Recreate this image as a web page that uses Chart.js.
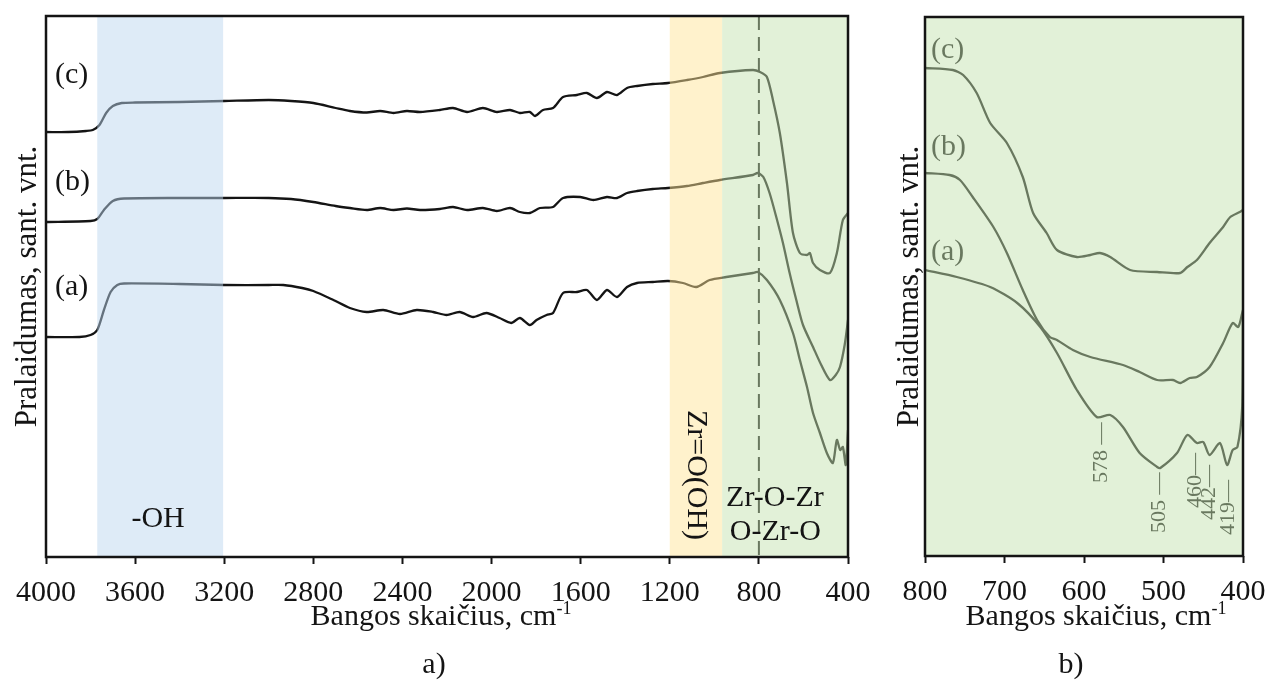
<!DOCTYPE html>
<html><head><meta charset="utf-8">
<script src="https://cdn.jsdelivr.net/npm/chart.js@4.4.1/dist/chart.umd.min.js"></script>
<style>
html,body{margin:0;padding:0;background:#fff;width:1269px;height:681px;overflow:hidden}
#wrapA{position:absolute;left:0;top:0;width:880px;height:681px}
#wrapB{position:absolute;left:880px;top:0;width:389px;height:681px}
canvas{display:block}
</style></head><body>
<div id="wrapA"><canvas id="cA" width="880" height="681"></canvas></div>
<div id="wrapB"><canvas id="cB" width="389" height="681"></canvas></div>
<script>
// ---------- DATA ----------
const leftTicks = [4000, 3600, 3200, 2800, 2400, 2000, 1600, 1200, 800, 400];
const rightTicks = [800, 700, 600, 500, 400];
const seriesNames = ['(a)', '(b)', '(c)'];
const yTitle = 'Pralaidumas, sant. vnt.';
const xTitleMain = 'Bangos skaičius, cm';
const xTitleSup = '-1';
const panelCaptions = ['a)', 'b)'];

const bandStart = [3770, 1200, 965];
const bandEnd = [3205, 965, 400];
const bandTexts = ['-OH', 'Zr=O(OH)', 'Zr-O-Zr', 'O-Zr-O'];
const dashedLineAt = 800;

const peakWavenumbers = [578, 505, 460, 442, 419];
const peakTexts = ['578 \u2014', '505 \u2014', '460\u2014', '442\u2014', '419\u2014'];

// left panel, full range 4000-400 cm-1 (arbitrary transmittance units)
const leftA_x = [4000,3850,3800,3770,3740,3710,3680,3650,3400,3200,3000,2935,2850,2800,2710,2636,2561,2486,2411,2336,2262,2202,2143,2083,2023,1964,1912,1873,1828,1798,1753,1724,1679,1617,1572,1527,1482,1437,1392,1347,1276,1208,1141,1081,1021,946,827,805,764,706,647,616,584,557,526,495,468,450,435,423,410,400];
const leftA_y = [220,220,222,227,247,265,272,273.5,273,272,272,272,269,266,257,249,245,247,243,247,245,242,245,240,244,239,234,239,232,237,242,244,264,265,267,257,267,260,270,274,275,276,274,270,277,280,284,285,277,257,224,197,170,144,124,104,94,117,107,110,92,127];

const leftB_x = [4000,3800,3770,3740,3700,3650,3400,3200,3000,2900,2800,2700,2636,2560,2500,2440,2380,2321,2232,2173,2110,2039,1976,1917,1873,1828,1783,1724,1679,1602,1543,1482,1437,1392,1347,1276,1208,1123,1051,975,827,805,780,752,722,692,662,632,602,557,520,481,455,436,415,400];
const leftB_y = [335,336,338,347,356,358.5,359,359,359,358,355,351,349,347,349,347,348.5,347,348,350,347,349,346,349,345,344,349,350,359,360,357,360,359,364,366,368,369,371,374,377,382,384,380,364,340,314,284,257,232,210,192,177,182,190,212,237];

const leftC_x = [4000,3900,3820,3790,3760,3730,3700,3660,3600,3400,3200,3000,2900,2800,2700,2636,2560,2500,2440,2380,2321,2232,2173,2110,2039,1976,1917,1873,1828,1805,1769,1724,1679,1617,1572,1527,1482,1437,1392,1347,1276,1208,1123,1051,975,827,795,764,737,706,674,647,616,584,571,557,526,481,450,423,400];
const leftC_y = [425,425,426,427,432,444,451,454,454.5,455,456,457,456,454,449,446,444.5,446,444,446,445,447,449,445,449,445,447,444,445,441,447,449,460,462,464,459,465,462,469,471,473,474,477,480,484,487,485,480,457,424,374,324,304,302,304,294,287,284,304,337,344];

// right panel, 800-400 cm-1
const rightA_x = [800,760,718,684,655,634,609,584,567,551,530,508,504,483,470,458,450,442,429,420,413,407,401,400];
const rightA_y = [286,279,269,253,229,203,166,139,141,129,103,89,88,103,121,113,114,101,113,91,106,109,149,239];

const rightB_x = [800,769,756,740,714,697,677,659,643,634,614,592,551,530,508,488,479,467,458,442,425,413,406,401,400];
const rightB_y = [383,381,376,359,329,303,266,236,219,216,206,199,191,184,176,176,173,178,179,189,213,233,229,243,246];

const rightC_x = [800,765,752,735,718,697,677,664,647,634,609,592,580,567,542,508,479,470,458,442,425,416,404,400];
const rightC_y = [488,486,481,463,433,413,379,343,323,306,299,301,303,299,286,284,283,289,296,313,329,339,344,346];

// ---------- STYLE / LAYOUT ----------
const FONT = "'Liberation Serif', 'Times New Roman', Times, serif";
const INK = '#141414';
const bandOverlay = ['rgba(187,214,239,0.486)', 'rgba(255,228,150,0.486)', 'rgba(195,226,175,0.486)'];
const greenOverlay = 'rgba(195,226,175,0.486)';

Chart.defaults.font.family = FONT;
Chart.defaults.color = INK;

function pts(xs, ys) { return xs.map((x, i) => ({ x: x, y: ys[i] })); }

function xScale(ticksArr, min, max, h) {
  return {
    type: 'linear', reverse: true, min: min, max: max,
    afterBuildTicks: s => { s.ticks = ticksArr.map(v => ({ value: v })); },
    afterFit: s => { s.height = h; s.paddingLeft = 0; s.paddingRight = 0; },
    ticks: { font: { size: 30 }, color: INK, padding: 11, maxRotation: 0, autoSkip: false, callback: v => String(v) },
    grid: { display: true, drawOnChartArea: false, drawTicks: true, tickLength: 7, tickColor: INK, tickWidth: 2 },
    border: { display: false }
  };
}
function yScale(max, w, pad) {
  return {
    type: 'linear', min: 0, max: max,
    afterFit: s => { s.width = w; s.paddingTop = 0; s.paddingBottom = 0; },
    ticks: { display: false }, grid: { display: false }, border: { display: false },
    title: { display: true, text: yTitle, font: { size: 31 }, color: INK, padding: { top: pad, bottom: 0 } }
  };
}
function ds(label, xs, ys) {
  return { label: label, data: pts(xs, ys), borderColor: INK, borderWidth: 2.3, pointRadius: 0, tension: 0.25, fill: false };
}
function drawXTitle(ctx, cx, baseY) {
  ctx.save();
  ctx.font = '30px ' + FONT;
  const w1 = ctx.measureText(xTitleMain).width;
  ctx.font = '18px ' + FONT;
  const w2 = ctx.measureText(xTitleSup).width;
  const x0 = cx - (w1 + w2) / 2;
  ctx.fillStyle = INK; ctx.textAlign = 'left'; ctx.textBaseline = 'alphabetic';
  ctx.font = '30px ' + FONT; ctx.fillText(xTitleMain, x0, baseY);
  ctx.font = '18px ' + FONT; ctx.fillText(xTitleSup, x0 + w1, baseY - 11);
  ctx.restore();
}
function drawBox(ctx, a) {
  ctx.save(); ctx.strokeStyle = INK; ctx.lineWidth = 2.5;
  ctx.strokeRect(a.left, a.top, a.right - a.left, a.bottom - a.top);
  ctx.restore();
}

// ---------- LEFT PANEL ----------
const leftLabelLevels = [270, 375, 482];           // y-levels of (a),(b),(c)
const bandTextPos = [[3497, 38, 0], [1083, 82, 1], [728, 59, 0], [726, 25, 0]]; // [x, y, rotate]

const leftDecor = {
  id: 'leftDecor',
  beforeDatasetsDraw(chart) {
    const { ctx, chartArea: a, scales: { x } } = chart;
    const px = x.getPixelForValue(dashedLineAt);
    ctx.save(); ctx.strokeStyle = INK; ctx.lineWidth = 2; ctx.setLineDash([14, 7]);
    ctx.beginPath(); ctx.moveTo(px, a.top); ctx.lineTo(px, a.bottom); ctx.stroke();
    ctx.restore();
  },
  afterDatasetsDraw(chart) {
    const { ctx, chartArea: a, scales: { x } } = chart;
    ctx.save();
    bandStart.forEach((s, i) => {
      const x0 = x.getPixelForValue(s), x1 = x.getPixelForValue(bandEnd[i]);
      ctx.fillStyle = bandOverlay[i];
      ctx.fillRect(x0, a.top, x1 - x0, a.bottom - a.top);
    });
    ctx.restore();
  },
  afterDraw(chart) {
    const { ctx, chartArea: a, scales: { x, y } } = chart;
    drawBox(ctx, a);
    ctx.save();
    ctx.fillStyle = INK; ctx.font = '30px ' + FONT; ctx.textBaseline = 'middle';
    ctx.textAlign = 'left';
    seriesNames.forEach((n, i) => ctx.fillText(n, a.left + 9, y.getPixelForValue(leftLabelLevels[i])));
    ctx.textAlign = 'center';
    bandTexts.forEach((t, i) => {
      const p = bandTextPos[i];
      const px = x.getPixelForValue(p[0]), py = y.getPixelForValue(p[1]);
      if (p[2]) { ctx.save(); ctx.translate(px, py); ctx.rotate(Math.PI / 2); ctx.fillText(t, 0, 0); ctx.restore(); }
      else ctx.fillText(t, px, py);
    });
    ctx.textBaseline = 'alphabetic';
    ctx.fillText(panelCaptions[0], (a.left + a.right) / 2 - 13, 673);
    ctx.restore();
    drawXTitle(ctx, (a.left + a.right) / 2 - 6, 625);
  }
};

new Chart(document.getElementById('cA'), {
  type: 'line',
  data: { datasets: [ds(seriesNames[0], leftA_x, leftA_y), ds(seriesNames[1], leftB_x, leftB_y), ds(seriesNames[2], leftC_x, leftC_y)] },
  options: {
    responsive: false, animation: false, events: [],
    layout: { padding: { left: 0, top: 16, right: 32, bottom: 0 } },
    scales: { x: xScale(leftTicks, 400, 4000, 124), y: yScale(541, 46, 9) },
    plugins: { legend: { display: false }, tooltip: { enabled: false } }
  },
  plugins: [leftDecor]
});

// ---------- RIGHT PANEL ----------
const rightLabelLevels = [304, 409, 506];
const peakTextBase = [73, 23, 48, 36, 21];

const rightDecor = {
  id: 'rightDecor',
  afterDatasetsDraw(chart) {
    const { ctx, chartArea: a, scales: { x, y } } = chart;
    ctx.save();
    ctx.fillStyle = INK; ctx.font = '30px ' + FONT; ctx.textBaseline = 'middle'; ctx.textAlign = 'left';
    seriesNames.forEach((n, i) => ctx.fillText(n, a.left + 6, y.getPixelForValue(rightLabelLevels[i])));
    ctx.font = '22px ' + FONT;
    peakWavenumbers.forEach((w, i) => {
      ctx.save();
      ctx.translate(x.getPixelForValue(w), y.getPixelForValue(peakTextBase[i]));
      ctx.rotate(-Math.PI / 2);
      ctx.fillText(peakTexts[i], 0, 0);
      ctx.restore();
    });
    ctx.fillStyle = greenOverlay;
    ctx.fillRect(a.left, a.top, a.right - a.left, a.bottom - a.top);
    ctx.restore();
  },
  afterDraw(chart) {
    const { ctx, chartArea: a } = chart;
    drawBox(ctx, a);
    ctx.save();
    ctx.fillStyle = INK; ctx.font = '30px ' + FONT; ctx.textAlign = 'center'; ctx.textBaseline = 'alphabetic';
    ctx.fillText(panelCaptions[1], (a.left + a.right) / 2 - 13, 673);
    ctx.restore();
    drawXTitle(ctx, (a.left + a.right) / 2 + 12, 625);
  }
};

new Chart(document.getElementById('cB'), {
  type: 'line',
  data: { datasets: [ds(seriesNames[0], rightA_x, rightA_y), ds(seriesNames[1], rightB_x, rightB_y), ds(seriesNames[2], rightC_x, rightC_y)] },
  options: {
    responsive: false, animation: false, events: [],
    layout: { padding: { left: 0, top: 17, right: 26, bottom: 0 } },
    scales: { x: xScale(rightTicks, 400, 800, 125), y: yScale(539, 45, 11) },
    plugins: { legend: { display: false }, tooltip: { enabled: false } }
  },
  plugins: [rightDecor]
});
</script>
</body></html>
